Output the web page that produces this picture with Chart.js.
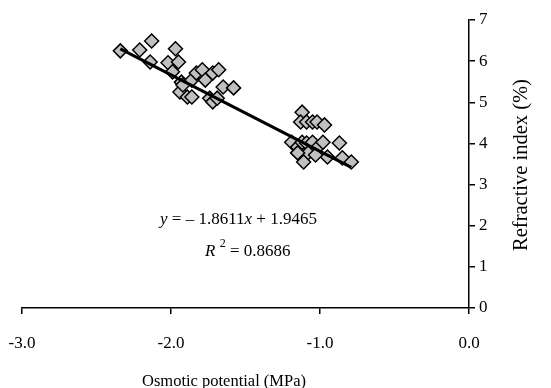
<!DOCTYPE html>
<html>
<head>
<meta charset="utf-8">
<script src="https://cdn.jsdelivr.net/npm/chart.js@4/dist/chart.umd.min.js"></script>
<style>
  html, body { margin: 0; padding: 0; background: #fff; }
  #wrap { width: 551px; height: 388px; }
</style>
</head>
<body>
<div id="wrap"><canvas id="chart" width="551" height="388"></canvas></div>
<script>
// osmotic potential (MPa)
const osmotic = [
  -2.34, -2.21, -2.13, -2.14, -2.02, -1.97, -1.95, -1.99, -1.93, -1.94,
  -1.92, -1.89, -1.86, -1.86, -1.83, -1.79, -1.77, -1.72, -1.68, -1.65,
  -1.58, -1.74, -1.72, -1.69,
  -1.12, -1.13, -1.09, -1.05, -1.02, -0.97, -1.19, -1.15, -1.12, -1.09,
  -1.05, -1.02, -0.98, -0.95, -1.08, -1.11, -1.03, -0.87, -0.85, -0.79, -1.15
];
// refractive index (%)
const refractive = [
  6.25, 6.27, 6.49, 5.98, 5.96, 6.30, 5.98, 5.74, 5.49, 5.25,
  5.42, 5.13, 5.13, 5.54, 5.71, 5.79, 5.54, 5.71, 5.79, 5.37,
  5.35, 5.10, 5.01, 5.10,
  4.76, 4.52, 4.52, 4.52, 4.52, 4.45, 4.03, 3.91, 4.03, 4.01,
  4.03, 3.89, 4.03, 3.67, 3.77, 3.55, 3.72, 4.01, 3.65, 3.55, 3.77
];
// trend line end points
const trendX = [-2.34, -0.79];
const trendY = [6.30, 3.42];

const xTicks = [-3, -2, -1, 0];

const FONT = 'Liberation Serif';

const points = osmotic.map((x, i) => ({ x: x, y: refractive[i] }));
const trend = trendX.map((x, i) => ({ x: x, y: trendY[i] }));

// texte libre : équation, R² et titres des axes
const textPlugin = {
  id: 'texts',
  afterDraw(chart) {
    const ctx = chart.ctx;
    ctx.save();
    ctx.fillStyle = '#000';
    ctx.textBaseline = 'alphabetic';
    ctx.textAlign = 'left';

    function seg(parts, x, y) {
      parts.forEach(p => {
        ctx.font = p[1];
        const dy = p[2] || 0;
        ctx.fillText(p[0], x, y + dy);
        x += ctx.measureText(p[0]).width;
      });
    }
    const n = '17px "' + FONT + '"';
    const it = 'italic 17px "' + FONT + '"';
    seg([['y', it], [' = \u2013 1.8611', n], ['x', it], [' + 1.9465', n]], 160, 224);
    seg([['R', it], [' ', n], ['2', '12px "' + FONT + '"', -9], [' = 0.8686', n]], 205, 256);

    ctx.font = '16.5px "' + FONT + '"';
    ctx.textAlign = 'center';
    ctx.fillText('Osmotic potential (MPa)', 224, 386);

    ctx.translate(527, 165);
    ctx.rotate(-Math.PI / 2);
    ctx.font = '20.5px "' + FONT + '"';
    ctx.fillText('Refractive index (%)', 0, 0);
    ctx.restore();
  }
};

new Chart(document.getElementById('chart').getContext('2d'), {
  type: 'scatter',
  data: {
    datasets: [
      {
        data: trend,
        showLine: true,
        borderColor: '#000',
        borderWidth: 3,
        pointRadius: 0,
        order: 0
      },
      {
        data: points,
        pointStyle: 'rectRot',
        pointRadius: 7,
        pointBackgroundColor: '#c0c0c0',
        pointBorderColor: '#000',
        pointBorderWidth: 1.5,
        order: 1
      }
    ]
  },
  options: {
    responsive: false,
    animation: false,
    layout: { padding: { left: 22, top: 20, right: 0, bottom: 0 } },
    plugins: { legend: { display: false }, tooltip: { enabled: false } },
    scales: {
      x: {
        type: 'linear',
        min: -3, max: 0,
        afterBuildTicks(s) { s.ticks = xTicks.map(v => ({ value: v })); },
        afterFit(s) { s.height = 80; s.paddingLeft = 0; s.paddingRight = 0; },
        grid: { display: true, drawOnChartArea: false, drawTicks: true, tickLength: 6, color: '#000', lineWidth: 1.5 },
        border: { display: true, color: '#000', width: 1.5 },
        ticks: {
          color: '#000', padding: 19,
          font: { family: FONT, size: 17 },
          maxRotation: 0,
          callback: v => v.toFixed(1)
        }
      },
      y: {
        type: 'linear',
        position: 'right',
        min: 0, max: 7,
        afterFit(s) { s.width = 82; s.paddingTop = 0; s.paddingBottom = 0; },
        grid: { display: true, drawOnChartArea: false, drawTicks: true, tickLength: 6, color: '#000', lineWidth: 1.5 },
        border: { display: true, color: '#000', width: 1.5 },
        ticks: {
          color: '#000', padding: 4, stepSize: 1,
          font: { family: FONT, size: 17 }
        }
      }
    }
  },
  plugins: [textPlugin]
});
</script>
</body>
</html>
